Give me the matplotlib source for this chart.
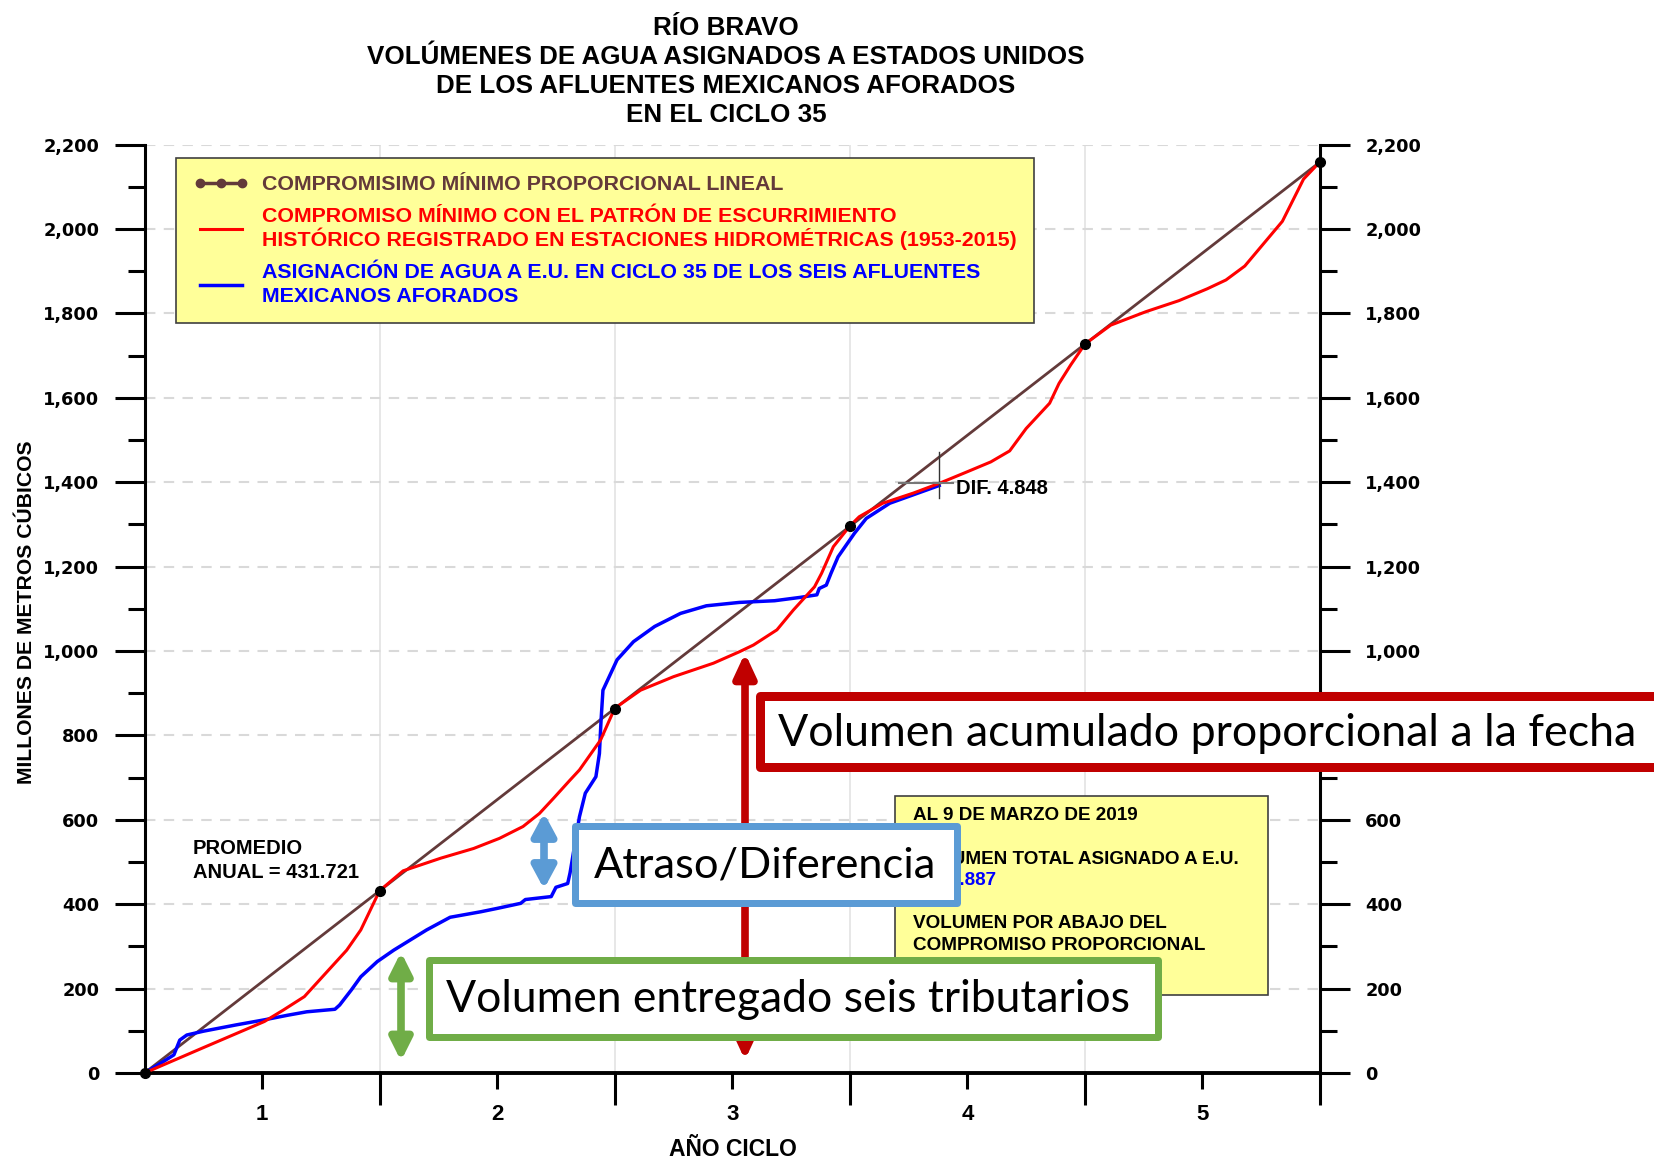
import numpy as np
import matplotlib
matplotlib.use('Agg')
import matplotlib.pyplot as plt
from matplotlib.patches import Rectangle, FancyArrowPatch
from matplotlib.lines import Line2D
from matplotlib.ticker import FuncFormatter

plt.rcParams['font.family'] = 'DejaVu Sans'
plt.rcParams['font.weight'] = 'bold'

# ---------------- datos ----------------
promedio = 431.721
anios = [0, 1, 2, 3, 4, 5]
lineal = [promedio * a for a in anios]

hist_x = [0, 0.25, 0.51, 0.59, 0.68, 0.86, 0.92, 1.00, 1.10, 1.26, 1.40, 1.51, 1.61,
          1.68, 1.74, 1.81, 1.85, 1.94, 2.00, 2.11, 2.25, 2.42, 2.53, 2.59, 2.69,
          2.76, 2.85, 2.88, 2.93, 2.97, 3.00, 3.04, 3.14, 3.27, 3.38, 3.51, 3.60,
          3.68, 3.75, 3.85, 3.89, 3.94, 4.00, 4.11, 4.26, 4.40, 4.52, 4.60, 4.68,
          4.84, 4.93, 5.00]
hist_y = [0, 60, 122, 149, 181, 291, 339, 432, 479, 509, 532, 556, 584,
          615, 651, 694, 718, 789, 864, 907, 939, 971, 998, 1014, 1050,
          1097, 1152, 1184, 1247, 1275, 1296, 1318, 1350, 1374, 1397, 1427, 1448,
          1474, 1527, 1587, 1634, 1678, 1727, 1772, 1804, 1830, 1858, 1879, 1912,
          2018, 2118, 2159]

eu_x = [0, 0.08, 0.125, 0.15, 0.18, 0.25, 0.39, 0.51, 0.61, 0.69, 0.81, 0.83, 0.88,
        0.92, 0.99, 1.06, 1.20, 1.30, 1.43, 1.50, 1.60, 1.62, 1.73, 1.75, 1.80,
        1.81, 1.85, 1.875, 1.92, 1.935, 1.942, 1.95, 2.01, 2.08, 2.17, 2.28, 2.39,
        2.53, 2.68, 2.79, 2.86, 2.87, 2.90, 2.92, 2.95, 2.99, 3.02, 3.07, 3.17,
        3.27, 3.38]
eu_y = [0, 27, 43, 78, 90, 99, 114, 126, 137, 145, 151, 161, 197,
        228, 264, 291, 339, 369, 382, 390, 402, 411, 418, 440, 449,
        474, 607, 663, 702, 757, 836, 907, 979, 1022, 1058, 1089, 1107,
        1115, 1119, 1127, 1133, 1148, 1156, 1184, 1223, 1255, 1279, 1314, 1350,
        1370, 1392]

etiquetas_x = ['1', '2', '3', '4', '5']
pos_etiquetas_x = [0.5, 1.5, 2.5, 3.5, 4.5]

BROWN = '#633A3A'
W, H = 1654, 1158


def fx(px):
    return px / W


def fy(py):
    return 1 - py / H


fig = plt.figure(figsize=(16.54, 11.58), dpi=100)
fig.patch.set_facecolor('white')

ax = fig.add_axes([fx(144.5), fy(1073), (1320 - 144.5) / W, (1073 - 144.5) / H])
ax.patch.set_alpha(0)
ax.set_xlim(0, 5)
ax.set_ylim(0, 2200)

# lineas
ax.plot(anios, lineal, color=BROWN, lw=2, zorder=3, clip_on=False)
ax.plot(anios, lineal, 'o', color='black', ms=7, zorder=6, clip_on=False)
l_red, = ax.plot(hist_x, hist_y, color='#FF0000', lw=2.2, zorder=5)
l_blue, = ax.plot(eu_x, eu_y, color='#0000FF', lw=2.5, zorder=4)

# cruz de diferencia
xe, ye = eu_x[-1], hist_y[hist_x.index(3.38)]
ax.plot([xe, xe], [ye - 35, ye + 75], color='#333333', lw=1, zorder=7)
ax.plot([xe - 0.17, xe + 0.06], [ye, ye], color='#777777', lw=1.5, zorder=7)
ax.text(xe + 0.07, ye - 12, 'DIF. 4.848', family='Liberation Sans', size=14.5,
        va='center', ha='left', zorder=8)

# ejes
for s in ['left', 'right']:
    ax.spines[s].set_linewidth(2.2)
ax.spines['bottom'].set_linewidth(2.8)
ax.spines['top'].set_visible(False)

ax.set_yticks(np.arange(0, 2201, 200))
ax.set_yticks(np.arange(100, 2200, 200), minor=True)
ax.yaxis.set_major_formatter(FuncFormatter(lambda v, p: f'{int(v):,}'))
ax.tick_params(axis='y', which='both', left=True, right=True, labelleft=True,
               labelright=True, direction='out', width=2.2)
ax.tick_params(axis='y', which='major', length=21.6, pad=11, labelsize=12.8)
ax.tick_params(axis='y', which='minor', length=12)

ax.set_xticks([1, 2, 3, 4, 5])
ax.set_xticks(pos_etiquetas_x, labels=etiquetas_x, minor=True,
              fontfamily='Liberation Sans', fontsize=16)
ax.tick_params(axis='x', which='major', length=23, width=2.2, labelbottom=False)
ax.tick_params(axis='x', which='minor', length=11.5, width=2.2, pad=11)

ax.grid(axis='y', which='major', ls=(0, (5, 4)), color='#D9D9D9', lw=1.5, zorder=0)
ax.grid(axis='x', which='major', color='#E3E3E3', lw=1.2, zorder=0)

# titulos
titulo = ['RÍO BRAVO', 'VOLÚMENES DE AGUA ASIGNADOS A ESTADOS UNIDOS',
          'DE LOS AFLUENTES MEXICANOS AFORADOS', 'EN EL CICLO 35']
for i, t in enumerate(titulo):
    fig.text(fx(726), fy(35 + 29 * i), t, ha='center', va='baseline',
             family='Liberation Sans', size=18.7)
fig.text(fx(733), fy(1156), 'AÑO CICLO', ha='center', va='baseline',
         family='Liberation Sans', size=16.5)
fig.text(fx(27), fy(612), 'MILLONES DE METROS CÚBICOS', rotation=90, ha='center',
         va='center', family='Liberation Sans', size=15.2)

ax.text(fx(193), fy(848), 'PROMEDIO', transform=fig.transFigure, family='Liberation Sans',
        size=14.5, va='center', zorder=8)
ax.text(fx(193), fy(872), f'ANUAL = {promedio}', transform=fig.transFigure,
        family='Liberation Sans', size=14.5, va='center', zorder=8)

# leyenda
h_brown = Line2D([], [], color=BROWN, lw=2.5, marker='o', ms=6, mfc=BROWN, mec=BROWN)
leg = ax.legend([h_brown, l_red, l_blue],
                ['COMPROMISIMO MÍNIMO PROPORCIONAL LINEAL',
                 'COMPROMISO MÍNIMO CON EL PATRÓN DE ESCURRIMIENTO\nHISTÓRICO REGISTRADO EN ESTACIONES HIDROMÉTRICAS (1953-2015)',
                 'ASIGNACIÓN DE AGUA A E.U. EN CICLO 35 DE LOS SEIS AFLUENTES\nMEXICANOS AFORADOS'],
                loc='upper left', bbox_to_anchor=(fx(176), fy(158)),
                bbox_transform=fig.transFigure, borderaxespad=0, fancybox=False,
                facecolor='#FFFF99', edgecolor='#404040', framealpha=1,
                prop=dict(family='Liberation Sans', weight='bold', size=15.4),
                labelcolor=[BROWN, '#FF0000', '#0000FF'], handlelength=2.6,
                handletextpad=0.62, borderpad=0.8, labelspacing=0.62, numpoints=3)
leg.get_frame().set_linewidth(1.2)
leg.get_texts()[1].set_linespacing(1.05)
leg.get_texts()[2].set_linespacing(1.33)
leg.set_zorder(10)

# cuadro de informacion
fig.add_artist(Rectangle((fx(895), fy(995)), (1268 - 895) / W, (995 - 796) / H,
                         transform=fig.transFigure, fc='#FFFF99', ec='#404040',
                         lw=1.2, zorder=1))
info = [('AL 9 DE MARZO DE 2019', 815, 'black'),
        ('VOLUMEN TOTAL ASIGNADO A E.U.', 859, 'black'),
        ('1,395.887', 881, '#0000FF'),
        ('VOLUMEN POR ABAJO DEL', 924, 'black'),
        ('COMPROMISO PROPORCIONAL', 945, 'black')]
for t, yy, c in info:
    fig.text(fx(913), fy(yy), t, color=c, family='Liberation Sans', size=13.6,
             va='center', zorder=2)


# recuadros y flechas sobrepuestos
def flecha(x, y0, y1, color, hl, hw, lw, z):
    fig.add_artist(FancyArrowPatch((fx(x), fy(y0)), (fx(x), fy(y1)),
                                   transform=fig.transFigure,
                                   arrowstyle=f'<|-|>,head_length={hl},head_width={hw}',
                                   mutation_scale=1, lw=lw, color=color,
                                   shrinkA=0, shrinkB=0, zorder=z))


def recuadro(x0, y0, x1, y1, color, lwpx, texto, tx, size, z):
    i = lwpx / 2
    fig.add_artist(Rectangle((fx(x0 + i), fy(y1 - i)), (x1 - x0 - lwpx) / W,
                             (y1 - y0 - lwpx) / H, transform=fig.transFigure,
                             fc='white', ec=color, lw=lwpx * 0.72, zorder=z,
                             joinstyle='round'))
    fig.text(fx(tx), fy((y0 + y1) / 2 + 2), texto, family='Lato', weight='normal',
             size=size, va='center', ha='left', zorder=z + 0.5)


flecha(745, 653, 1060, '#C00000', 14, 6.5, 5.5, 3)
flecha(544, 813, 889, '#5B9BD5', 13, 7, 5.5, 3)
flecha(401, 952, 1061, '#70AD47', 13, 6.5, 5.5, 3)

recuadro(755, 691, 1665, 771, '#C00000', 9,
         'Volumen acumulado proporcional a la fecha', 778, 32.2, 4)
recuadro(571, 822, 960, 906, '#5B9BD5', 7, 'Atraso/Diferencia', 594, 31.2, 4)
recuadro(425, 956, 1161, 1040, '#70AD47', 7,
         'Volumen entregado seis tributarios', 446, 32.0, 4)

fig.savefig('out.png', dpi=100)
